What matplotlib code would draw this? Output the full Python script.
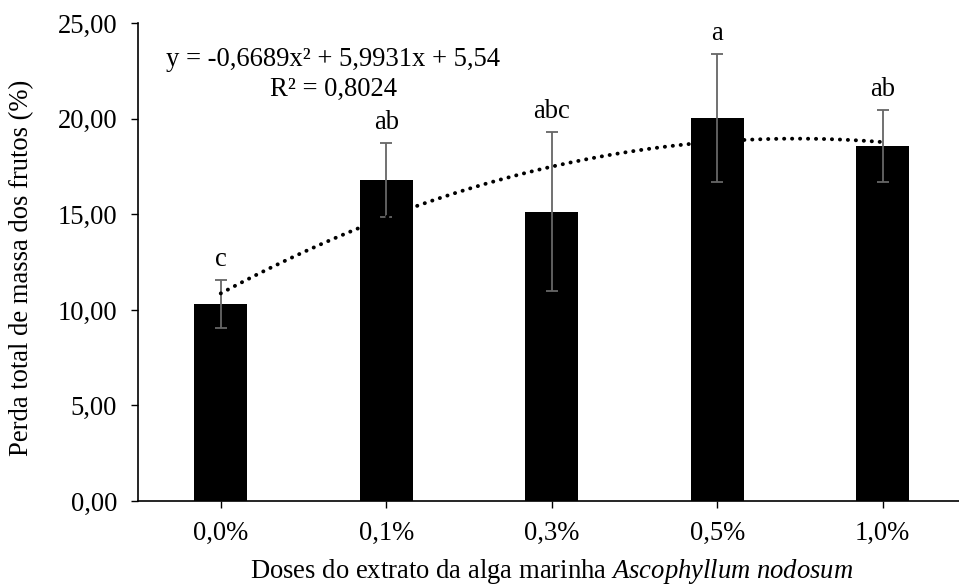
import matplotlib
matplotlib.use("Agg")
import matplotlib.pyplot as plt
import numpy as np

categories = ["0,0%", "0,1%", "0,3%", "0,5%", "1,0%"]
means = [10.30, 16.80, 15.15, 20.05, 18.57]
errors = [1.25, 1.94, 4.16, 3.34, 1.88]
letters = ["c", "ab", "abc", "a", "ab"]
yticks = [0, 5, 10, 15, 20, 25]
ytick_labels = ["0,00", "5,00", "10,00", "15,00", "20,00", "25,00"]
coef_a, coef_b, coef_c = -0.6689, 5.9931, 5.54
equation = "y = -0,6689x² + 5,9931x + 5,54"
r2_text = "R² = 0,8024"

plt.rcParams['font.family'] = ['Liberation Serif', 'DejaVu Serif']
plt.rcParams['mathtext.fontset'] = 'custom'
plt.rcParams['mathtext.rm'] = 'Liberation Serif'
plt.rcParams['mathtext.it'] = 'Liberation Serif:italic'

FS = 19.2
fig = plt.figure(figsize=(9.59, 5.85), dpi=100)
ax = fig.add_axes([138/959, 84/585, 827.5/959, 477.7/585])

x = np.arange(1, len(categories) + 1)
ax.bar(x, means, width=0.323, color='black', zorder=2)
ax.errorbar(x, means, yerr=errors, fmt='none', ecolor='#666666',
            elinewidth=1.3, capsize=4.5, capthick=1.3, zorder=3)

# trendline (polynomial given in chart)
xt = np.linspace(1, 5, 200)
yt = coef_a * xt**2 + coef_b * xt + coef_c
ax.plot(xt, yt, color='black', lw=2.8, linestyle=(0, (0.05, 2.0)),
        dash_capstyle='round', zorder=4)

for xi, m, e, lab in zip(x, means, errors, letters):
    ax.annotate(lab, (xi, m + e), xytext=(0, 10), textcoords='offset points',
                ha='center', va='baseline', fontsize=FS)

fig.text(333/959, 1 - 60/585, equation, ha='center', va='center', fontsize=FS)
fig.text(333/959, 1 - 89/585, r2_text, ha='center', va='center', fontsize=FS)

ax.set_xlim(0.5, 5.5)
ax.set_ylim(0, 25)
ax.set_xticks(x)
ax.set_xticklabels(categories, fontsize=FS)
ax.set_yticks(yticks)
ax.set_yticklabels(ytick_labels, fontsize=FS)
ax.tick_params(axis='y', direction='out', length=5, width=1, pad=10, colors='black')
ax.tick_params(axis='x', direction='out', length=5, width=1, pad=9, colors='black')
for s in ['top', 'right']:
    ax.spines[s].set_visible(False)
for s in ['left', 'bottom']:
    ax.spines[s].set_linewidth(1.2)
    ax.spines[s].set_color('black')

fig.text(552/959, 1 - 572/585,
         r"Doses do extrato da alga marinha $\mathit{Ascophyllum\ nodosum}$",
         ha='center', va='center', fontsize=FS)
fig.text(22/959, 1 - 268/585, "Perda total de massa dos frutos (%)",
         ha='center', va='center', rotation=90, fontsize=FS)

fig.savefig("out.png", dpi=100)
